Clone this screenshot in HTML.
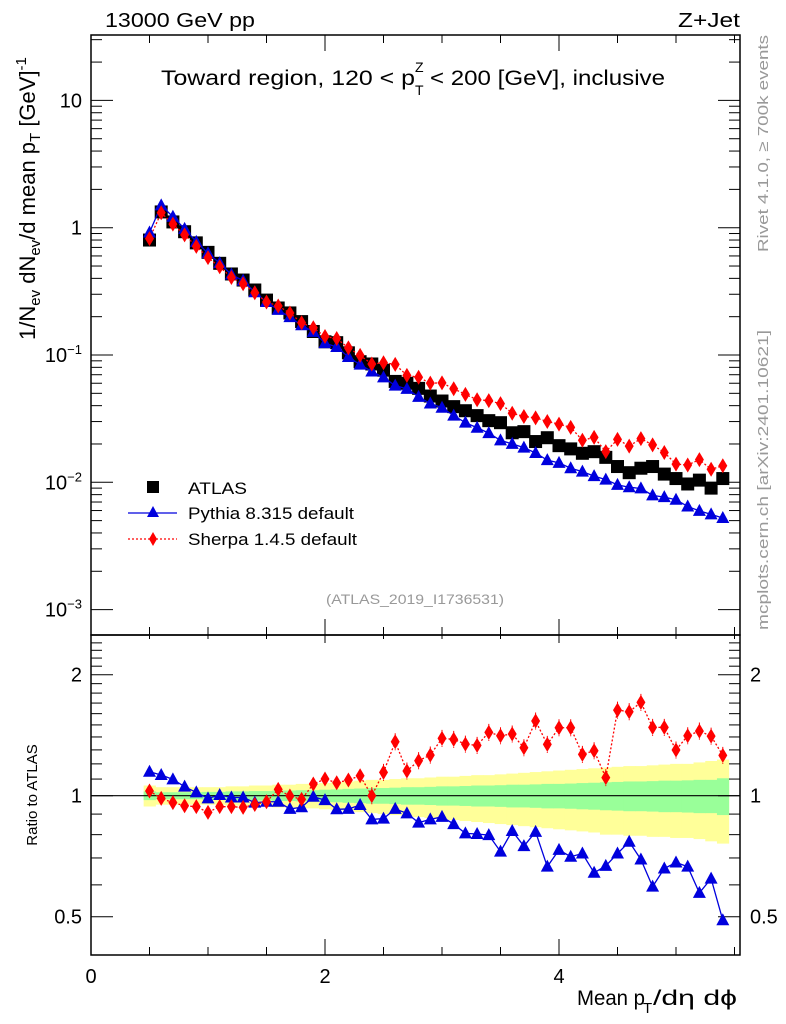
<!DOCTYPE html>
<html><head><meta charset="utf-8"><style>
body{margin:0;background:#fff}
svg{display:block;font-family:"Liberation Sans",sans-serif}
</style></head><body>
<svg id="c" width="786" height="1024" viewBox="0 0 786 1024" xmlns="http://www.w3.org/2000/svg">
<g id="bands"></g>
<g id="axes"></g>
<g id="marks"></g>
<text x="105" y="27" font-size="20" textLength="150" lengthAdjust="spacingAndGlyphs">13000 GeV pp</text>
<text x="678" y="27" font-size="20" textLength="62" lengthAdjust="spacingAndGlyphs">Z+Jet</text>
<g>
<text x="161" y="85" font-size="21" textLength="254" lengthAdjust="spacingAndGlyphs">Toward region, 120 &lt; p</text>
<text x="415" y="95" font-size="14">T</text>
<text x="415" y="72" font-size="14">Z</text>
<text x="430" y="85" font-size="21" textLength="235" lengthAdjust="spacingAndGlyphs">&lt; 200 [GeV], inclusive</text>
</g>
<text transform="translate(35,340) rotate(-90)" font-size="22">1/N<tspan font-size="15" dy="5">ev</tspan><tspan dy="-5"> dN</tspan><tspan font-size="15" dy="5">ev</tspan><tspan dy="-5">/d mean p</tspan><tspan font-size="15" dy="5">T</tspan><tspan dy="-5"> [GeV]</tspan><tspan font-size="15" dy="-9">-1</tspan></text>
<text transform="translate(37,795) rotate(-90)" font-size="15" text-anchor="middle">Ratio to ATLAS</text>
<g>
<text x="577" y="1005" font-size="21" textLength="68" lengthAdjust="spacingAndGlyphs">Mean p</text>
<text x="643" y="1013" font-size="15">T</text>
<text x="653" y="1005" font-size="21" textLength="84" lengthAdjust="spacingAndGlyphs">/dη dϕ</text>
</g>
<text transform="translate(768,252) rotate(-90)" font-size="15" fill="#999" textLength="217" lengthAdjust="spacingAndGlyphs">Rivet 4.1.0, ≥ 700k events</text>
<text transform="translate(768,630) rotate(-90)" font-size="15" fill="#999" textLength="300" lengthAdjust="spacingAndGlyphs">mcplots.cern.ch [arXiv:2401.10621]</text>
<text x="326" y="604" font-size="14" fill="#999" textLength="178" lengthAdjust="spacingAndGlyphs">(ATLAS_2019_I1736531)</text>
<g>
<rect x="147" y="481" width="12" height="12" fill="#000"/>
<text x="188" y="494" font-size="17" textLength="59" lengthAdjust="spacingAndGlyphs">ATLAS</text>
<line x1="128" y1="513" x2="177" y2="513" stroke="#0000dd" stroke-width="1.2"/>
<path d="M153,506 L159,517 L147,517 Z" fill="#0000dd"/>
<text x="188" y="519" font-size="17" textLength="166" lengthAdjust="spacingAndGlyphs">Pythia 8.315 default</text>
<line x1="128" y1="539" x2="177" y2="539" stroke="#f00" stroke-width="1.2" stroke-dasharray="2,2"/>
<path d="M153,532 L157,539 L153,546 L149,539 Z" fill="#f00"/>
<text x="188" y="545" font-size="17" textLength="169" lengthAdjust="spacingAndGlyphs">Sherpa 1.4.5 default</text>
</g>
</svg>
<script>
const xs=[0.5,0.6,0.7,0.8,0.9,1.0,1.1,1.2,1.3,1.4,1.5,1.6,1.7,1.8,1.9,2.0,2.1,2.2,2.3,2.4,2.5,2.6,2.7,2.8,2.9,3.0,3.1,3.2,3.3,3.4,3.5,3.6,3.7,3.8,3.9,4.0,4.1,4.2,4.3,4.4,4.5,4.6,4.7,4.8,4.9,5.0,5.1,5.2,5.3,5.4];
const atlas=[0.80,1.33,1.11,0.93,0.76,0.64,0.525,0.433,0.388,0.324,0.270,0.234,0.214,0.183,0.153,0.127,0.125,0.104,0.0886,0.085,0.076,0.062,0.060,0.0547,0.0476,0.0435,0.0393,0.0365,0.0334,0.0305,0.0294,0.0245,0.025,0.0209,0.0224,0.0194,0.0183,0.0169,0.0174,0.0157,0.0133,0.0119,0.0129,0.0133,0.0116,0.0107,0.0097,0.0104,0.0090,0.0107];
const pythiaRatio=[1.147,1.126,1.098,1.053,1.019,0.985,1.004,0.99,0.99,0.961,0.966,0.966,0.927,0.936,0.994,0.975,0.925,0.927,0.948,0.873,0.877,0.927,0.904,0.857,0.873,0.886,0.850,0.806,0.803,0.798,0.726,0.817,0.749,0.813,0.666,0.733,0.705,0.718,0.643,0.669,0.718,0.768,0.694,0.594,0.659,0.682,0.666,0.573,0.622,0.490];
const sherpaRatio=[1.027,0.985,0.961,0.944,0.939,0.909,0.939,0.939,0.935,0.951,0.966,1.037,0.998,0.979,1.069,1.100,1.077,1.094,1.121,1.0,1.143,1.362,1.152,1.222,1.262,1.389,1.381,1.344,1.334,1.437,1.410,1.424,1.316,1.534,1.342,1.476,1.476,1.267,1.294,1.109,1.633,1.618,1.707,1.479,1.479,1.299,1.410,1.448,1.407,1.260];
const yellowUp=[0.06,0.05,0.05,0.05,0.05,0.05,0.05,0.055,0.055,0.06,0.06,0.065,0.065,0.07,0.07,0.075,0.08,0.085,0.09,0.095,0.095,0.10,0.105,0.105,0.11,0.115,0.115,0.12,0.125,0.125,0.13,0.135,0.14,0.145,0.15,0.155,0.16,0.165,0.17,0.175,0.18,0.185,0.185,0.19,0.195,0.2,0.2,0.21,0.22,0.23];
const yellowDn=[0.06,0.05,0.05,0.05,0.05,0.05,0.05,0.055,0.055,0.06,0.06,0.065,0.065,0.07,0.07,0.075,0.08,0.085,0.09,0.095,0.10,0.105,0.11,0.115,0.12,0.125,0.13,0.135,0.14,0.145,0.15,0.155,0.16,0.165,0.17,0.175,0.18,0.185,0.19,0.2,0.2,0.205,0.205,0.21,0.21,0.215,0.215,0.22,0.23,0.24];
const greenErr=[0.025,0.02,0.02,0.02,0.02,0.022,0.022,0.025,0.025,0.027,0.027,0.03,0.03,0.032,0.032,0.035,0.037,0.04,0.042,0.045,0.045,0.047,0.05,0.05,0.052,0.055,0.055,0.057,0.06,0.06,0.062,0.065,0.065,0.067,0.07,0.07,0.072,0.075,0.077,0.08,0.082,0.085,0.085,0.087,0.09,0.09,0.092,0.095,0.095,0.105];
const mainTicks=[10,1,0.1,0.01,0.001];
const mainTickLabels=["10","1","10<tspan font-size='13' dy='-8'>−1</tspan>","10<tspan font-size='13' dy='-8'>−2</tspan>","10<tspan font-size='13' dy='-8'>−3</tspan>"];
const ratioTicks=[0.5,1,2];
const ratioTickLabels=["0.5","1","2"];
const xTicks=[0,2,4];

const L=91,R=740,T=35,MB=635,B=955;
const X=v=>L+117*v;
const Y=v=>227.7-127.3*Math.log10(v);
const YR=r=>795.7-121*Math.log2(r);
const NS="http://www.w3.org/2000/svg";
function mk(par,tag,attrs){const e=document.createElementNS(NS,tag);for(const k in attrs)e.setAttribute(k,attrs[k]);par.appendChild(e);return e;}
const ax=document.getElementById('axes'),bd=document.getElementById('bands'),mg=document.getElementById('marks');

const hw=0.05;
xs.forEach((x,i)=>{
  const y=mk(bd,'rect',{x:X(x-hw),width:117*0.1+0.5,y:YR(1+yellowUp[i]),height:YR(1-yellowDn[i])-YR(1+yellowUp[i]),fill:'#ffff99'});
  
  
});
xs.forEach((x,i)=>{
  const g=mk(bd,'rect',{x:X(x-hw),width:117*0.1+0.5,y:YR(1+greenErr[i]),height:YR(1-greenErr[i])-YR(1+greenErr[i]),fill:'#99ff99'});
  
  
});

[[T,MB],[MB,B]].forEach(([a,b])=>{
  const f=mk(ax,'rect',{x:L,y:a,width:R-L,height:b-a,fill:'none',stroke:'#000','stroke-width':1.5});
  
  
});
const one=mk(ax,'line',{x1:L,x2:R,y1:YR(1),y2:YR(1),stroke:'#000','stroke-width':1.2});



for(let v=0;v<=5.5;v+=0.5){
  const major=Math.abs(v%2)<1e-6;
  const l=major?16:8, px=X(v);
  [[B,-1],[MB,-1],[MB,1],[T,1]].forEach(([yy,d])=>{
    mk(ax,'line',{x1:px,x2:px,y1:yy,y2:yy+d*(d>0&&yy===MB?l/2:l),stroke:'#000','stroke-width':1});
  });
}
xTicks.forEach(v=>{
  const t=mk(ax,'text',{x:X(v),y:B+28,'font-size':20,'text-anchor':'middle'});
  
  
  t.textContent=v;
});
for(let d=-3;d<=1;d++){
  for(let m=1;m<=9;m++){
    const v=m*Math.pow(10,d),y=Y(v);
    if(y<T||y>MB)continue;
    const l=m===1?22:11;
    mk(ax,'line',{x1:L,x2:L+l,y1:y,y2:y,stroke:'#000'});
    mk(ax,'line',{x1:R,x2:R-l,y1:y,y2:y,stroke:'#000'});
  }
}
mainTicks.forEach((v,i)=>{
  const t=mk(ax,'text',{x:82,y:Y(v)+7,'font-size':20,'text-anchor':'end'});
  
  
  t.innerHTML=mainTickLabels[i];
});
[0.4,0.5,0.6,0.7,0.8,0.9,1,1.1,1.2,1.3,1.4,1.5,1.6,1.7,1.8,1.9,2,2.1,2.2,2.3,2.4].forEach(v=>{
  const y=YR(v); if(y<MB||y>B)return;
  const l=(v===0.5||v===1||v===2)?22:11;
  mk(ax,'line',{x1:L,x2:L+l,y1:y,y2:y,stroke:'#000'});
  mk(ax,'line',{x1:R,x2:R-l,y1:y,y2:y,stroke:'#000'});
});
ratioTicks.forEach((v,i)=>{
  const t=mk(ax,'text',{x:82,y:YR(v)+7,'font-size':20,'text-anchor':'end'});
  
  
  t.textContent=ratioTickLabels[i];
  const t2=mk(ax,'text',{x:750,y:YR(v)+7,'font-size':20});
  
  
  t2.textContent=ratioTickLabels[i];
});

function tri(g,x,y,name){const p=mk(g,'path',{d:`M${x},${y-7} L${x+6.5},${y+5} L${x-6.5},${y+5} Z`,fill:'#0000dd'});}
function dia(g,x,y,name){const p=mk(g,'path',{d:`M${x},${y-7.5} L${x+4.5},${y} L${x},${y+7.5} L${x-4.5},${y} Z`,fill:'#f00'});}
const pyth=xs.map((x,i)=>atlas[i]*pythiaRatio[i]);
const sher=xs.map((x,i)=>atlas[i]*sherpaRatio[i]);
xs.forEach((x,i)=>{
  const s=mk(mg,'rect',{x:X(x)-6.5,y:Y(atlas[i])-6.5,width:13,height:13,fill:'#000'});
  
  
});
const pl=mk(mg,'polyline',{points:xs.map((x,i)=>X(x)+','+Y(pyth[i])).join(' '),fill:'none',stroke:'#0000dd','stroke-width':1.3});


const sl=mk(mg,'polyline',{points:xs.map((x,i)=>X(x)+','+Y(sher[i])).join(' '),fill:'none',stroke:'#f00','stroke-width':1.3,'stroke-dasharray':'2,2'});


xs.forEach((x,i)=>{tri(mg,X(x),Y(pyth[i]),'pythia-point');dia(mg,X(x),Y(sher[i]),'sherpa-point');});
const pr=mk(mg,'polyline',{points:xs.map((x,i)=>X(x)+','+YR(pythiaRatio[i])).join(' '),fill:'none',stroke:'#0000dd','stroke-width':1.3});


const sr=mk(mg,'polyline',{points:xs.map((x,i)=>X(x)+','+YR(sherpaRatio[i])).join(' '),fill:'none',stroke:'#f00','stroke-width':1.3,'stroke-dasharray':'2,2'});


xs.forEach((x,i)=>{
  if(x>=2.4){
    const e=mk(mg,'line',{x1:X(x),x2:X(x),y1:YR(sherpaRatio[i]*1.05),y2:YR(sherpaRatio[i]/1.05),stroke:'#f00','stroke-dasharray':'2,2'});
    
    
  }
  tri(mg,X(x),YR(pythiaRatio[i]),'pythia-ratio-point');
  dia(mg,X(x),YR(sherpaRatio[i]),'sherpa-ratio-point');
});
</script>
</body></html>
